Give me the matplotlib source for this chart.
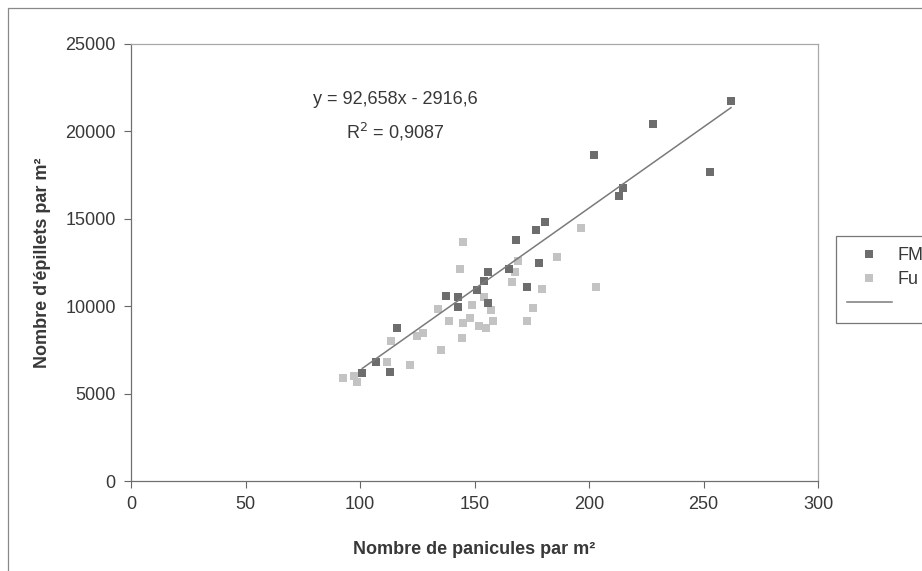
import numpy as np
import matplotlib
matplotlib.use("Agg")
import matplotlib.pyplot as plt
from matplotlib.lines import Line2D
from matplotlib.patches import Rectangle

plt.rcParams['font.family'] = ['Liberation Sans', 'DejaVu Sans']

# FM series (dark squares)
fm_x = [101, 107, 113, 116, 137.5, 143, 143, 151, 154, 156, 156, 165, 168,
        173, 177, 178, 181, 202, 213, 215, 228, 253, 262]
fm_y = [6150, 6820, 6250, 8770, 10610, 10520, 9980, 10950, 11470, 11980, 10210,
        12100, 13760, 11070, 14360, 12470, 14790, 18630, 16280, 16740, 20410,
        17660, 21730]

# Fu series (light squares)
fu_x = [92.6, 97.5, 98.7, 112, 113.5, 122, 125, 127.5, 134, 135.4, 139, 144.5,
        145, 143.7, 145, 148, 149, 152, 155, 154, 157, 158, 166.4, 167.7, 168.8,
        173, 175.5, 179.5, 186, 196.5, 203]
fu_y = [5880, 6020, 5650, 6820, 8030, 6650, 8290, 8490, 9860, 7510, 9170, 8200,
        13700, 12100, 9060, 9350, 10090, 8890, 8770, 10550, 9780, 9170, 11410,
        11980, 12610, 9170, 9920, 11010, 12790, 14450, 11070]

# trendline (FM), coefficients as printed on the chart
slope = 92.658
intercept = -2916.6
r2_text = "0,9087"
eq_text = "y = 92,658x - 2916,6"

legend_labels = ["FM", "Fu", " "]

dark = '#6d6d6d'
light = '#c3c3c3'
txt = '#383838'
fs = 13

fig = plt.figure(figsize=(9.22, 5.71), dpi=100)
ax = fig.add_axes([131/922, 1-481/571, (818-131)/922, (481-44)/571])

ax.plot(fm_x, fm_y, 's', color=dark, markersize=5.7, markeredgewidth=0, zorder=3)
ax.plot(fu_x, fu_y, 's', color=light, markersize=5.7, markeredgewidth=0, zorder=2)

lx = np.array([min(fm_x), max(fm_x)])
ax.plot(lx, slope*lx + intercept, color='#7a7a7a', linewidth=1.1, zorder=4)

ax.set_xlim(0, 300)
ax.set_ylim(0, 25000)
ax.set_xticks(np.arange(0, 301, 50))
ax.set_yticks(np.arange(0, 25001, 5000))
ax.tick_params(direction='out', length=5, width=0.8, color='#666666',
               labelsize=fs, labelcolor=txt, pad=6)

for side in ['left', 'bottom']:
    ax.spines[side].set_color('#707070')
    ax.spines[side].set_linewidth(0.9)
for side in ['top', 'right']:
    ax.spines[side].set_color('#a8a8a8')
    ax.spines[side].set_linewidth(0.9)

ax.set_xlabel("Nombre de panicules par m²", fontsize=fs, fontweight='bold',
              color=txt, labelpad=20)
ax.set_ylabel("Nombre d'épillets par m²", fontsize=fs, fontweight='bold',
              color=txt, labelpad=10)

ax.text(0.385, 0.872, eq_text, transform=ax.transAxes, ha='center', va='center',
        fontsize=fs, color=txt)
ax.text(0.385, 0.799, "R$^2$ = " + r2_text, transform=ax.transAxes, ha='center',
        va='center', fontsize=fs, color=txt)

# legend (runs past the right edge of the picture, as in the original)
handles = [Line2D([], [], marker='s', linestyle='none', color=dark, markersize=5.7,
                  markeredgewidth=0),
           Line2D([], [], marker='s', linestyle='none', color=light, markersize=5.7,
                  markeredgewidth=0),
           Line2D([], [], color='#7a7a7a', linewidth=1.1)]
leg = fig.legend(handles, legend_labels, loc='upper left',
                 bbox_to_anchor=(836/922, 1-236/571), fontsize=fs,
                 frameon=True, fancybox=False, edgecolor='#555555',
                 handlelength=2.5, handletextpad=0.3, labelspacing=0.4,
                 borderpad=0.6, borderaxespad=0)
leg.get_frame().set_linewidth(0.9)
for t in leg.get_texts():
    t.set_color(txt)

# outer chart border
fig.patches.append(Rectangle((8/922, -0.1), 1.2, 1-8/571+0.1, transform=fig.transFigure,
                             fill=False, edgecolor='#888888', linewidth=0.9))

fig.savefig("out.png", dpi=100)
